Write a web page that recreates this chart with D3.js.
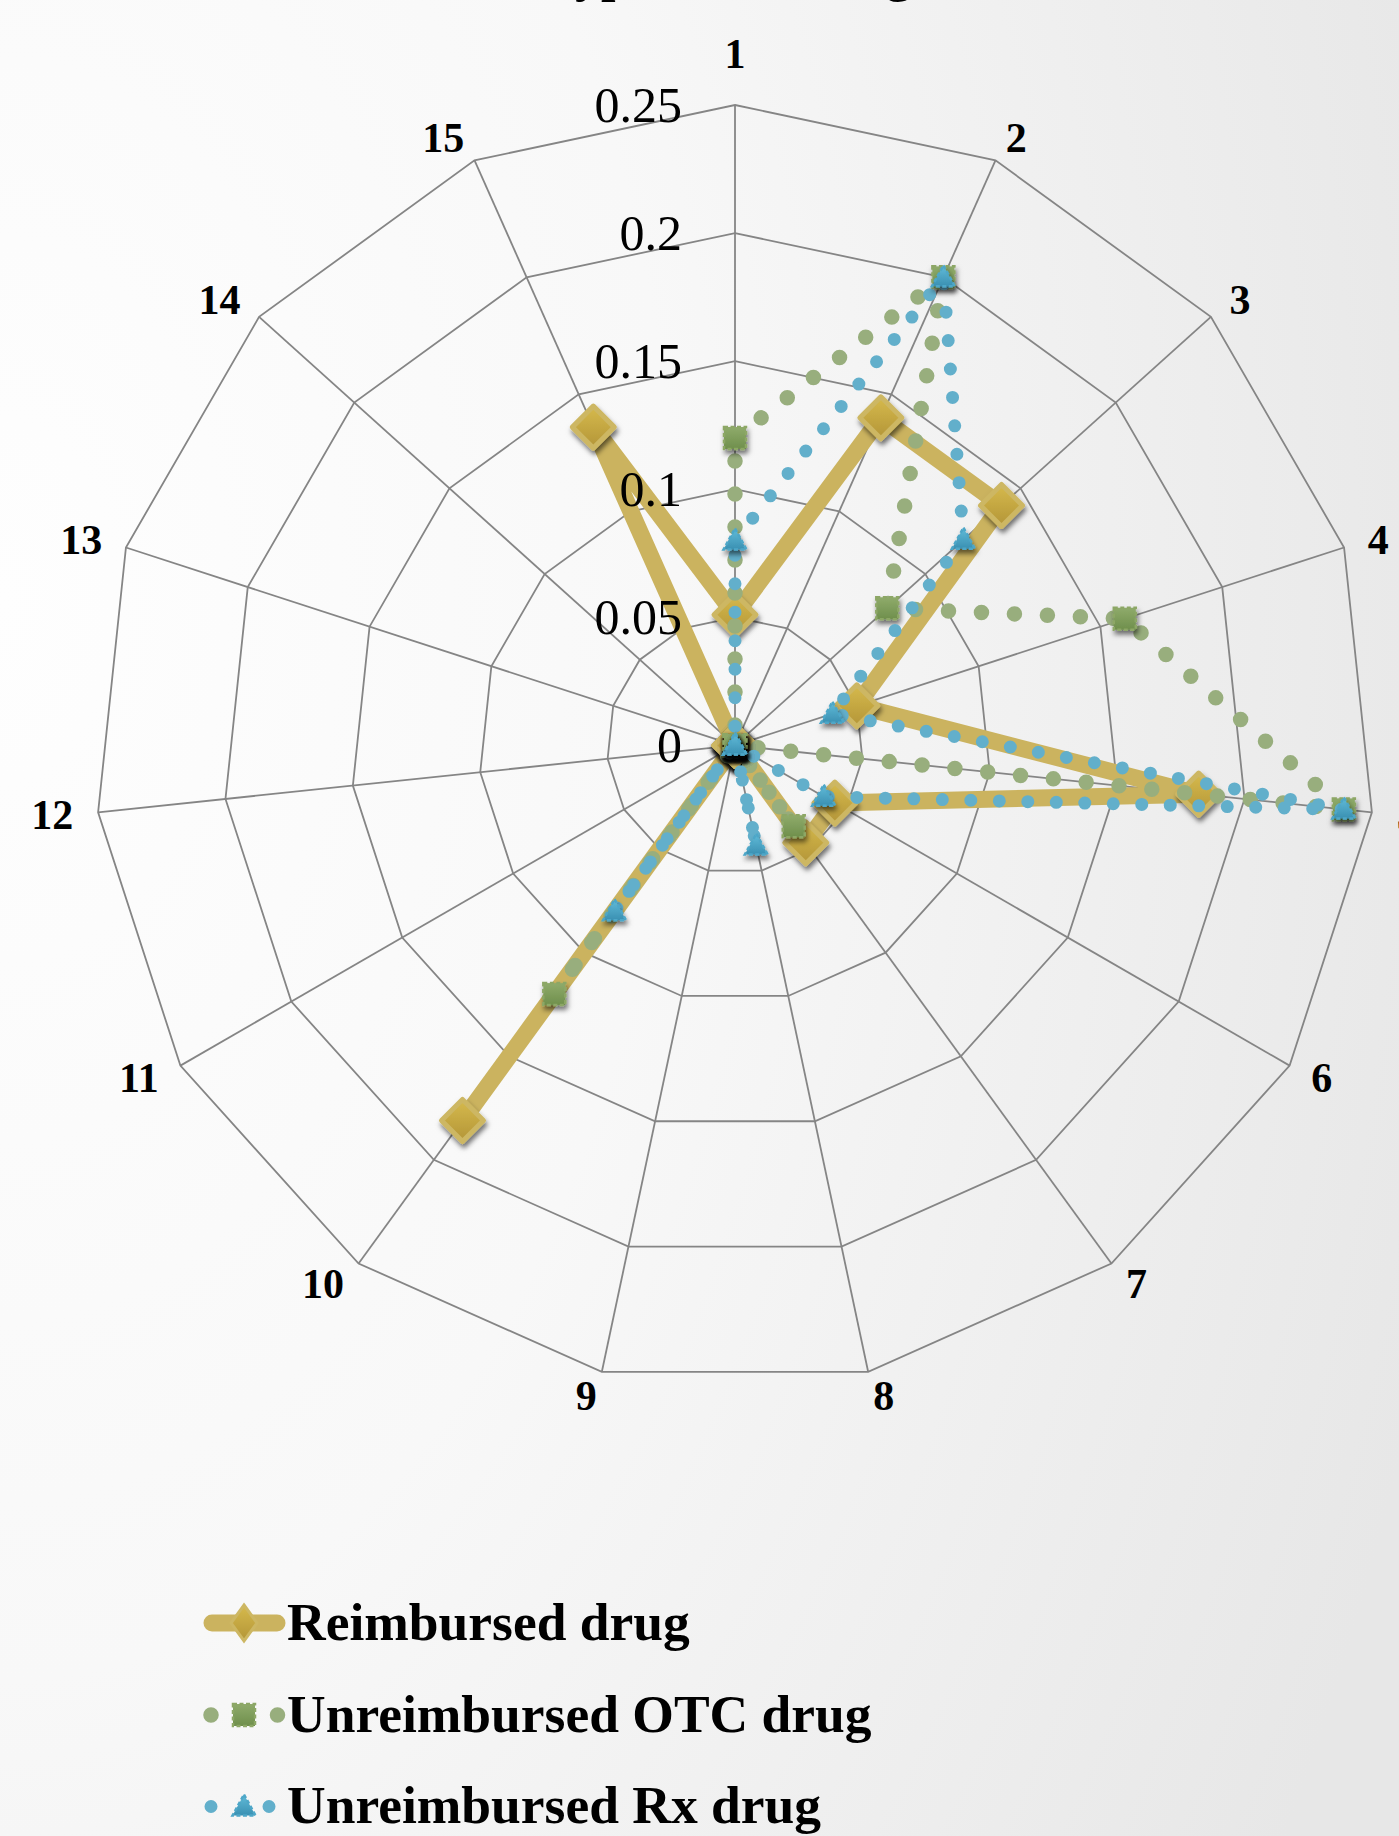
<!DOCTYPE html>
<html>
<head>
<meta charset="utf-8">
<script src="https://cdn.jsdelivr.net/npm/d3@7/dist/d3.min.js"></script>
<style>
  html, body { margin: 0; padding: 0; overflow: hidden; background: #f4f4f4; }
  svg { display: block; }
  text { font-family: "Liberation Serif", "Times New Roman", serif; fill: #000; }
</style>
</head>
<body>
<svg id="chart" width="1399" height="1836"></svg>
<script>
// ---- data ----
const titleText = "Type of the drug";
const axisLabels = ["1", "2", "3", "4", "5", "6", "7", "8", "9", "10", "11", "12", "13", "14", "15"];
const tickValues = [0, 0.05, 0.1, 0.15, 0.2, 0.25];
const tickLabels = ["0", "0.05", "0.1", "0.15", "0.2", "0.25"];
const seriesNames = ["Reimbursed drug", "Unreimbursed OTC drug", "Unreimbursed Rx drug"];
const reimbursed = [0.051, 0.140, 0.140, 0.050, 0.182, 0.045, 0.047, 0, 0, 0.181, 0, 0, 0, 0, 0.136];
const otc        = [0.120, 0.200, 0.080, 0.160, 0.239, 0, 0.039, 0, 0, 0.120, 0, 0, 0, 0, 0];
const rx         = [0.080, 0.200, 0.120, 0.040, 0.239, 0.040, 0, 0.040, 0, 0.080, 0, 0, 0, 0, 0];

// ---- layout ----
const W = 1399, H = 1836;
const cx = 735, cy = 745.4, R = 640.4;
const svg = d3.select("#chart");
const defs = svg.append("defs");

// page background: soft light-grey radial wash
const bg = defs.append("radialGradient").attr("id", "bgGrad")
  .attr("gradientUnits", "userSpaceOnUse")
  .attr("cx", 0).attr("cy", 600).attr("r", 1500)
  .attr("gradientTransform", "translate(0,600) scale(1,1.6) translate(0,-600)");
bg.append("stop").attr("offset", "0").attr("stop-color", "#fefefe");
bg.append("stop").attr("offset", "0.45").attr("stop-color", "#f8f8f8");
bg.append("stop").attr("offset", "1").attr("stop-color", "#e7e7e7");
svg.append("rect").attr("width", W).attr("height", H).attr("fill", "url(#bgGrad)");

function vGrad(id, top, bottom) {
  const g = defs.append("linearGradient").attr("id", id)
    .attr("x1", 0).attr("y1", 0).attr("x2", 0).attr("y2", 1);
  g.append("stop").attr("offset", "0").attr("stop-color", top);
  g.append("stop").attr("offset", "1").attr("stop-color", bottom);
}
vGrad("goldGrad", "#d6ba4c", "#b39538");
vGrad("greenGrad", "#8fab6b", "#6f8f4c");
vGrad("blueGrad", "#62bcd9", "#3a90b2");

const shadow = defs.append("filter").attr("id", "mShadow")
  .attr("x", "-60%").attr("y", "-60%").attr("width", "220%").attr("height", "220%");
shadow.append("feDropShadow").attr("dx", 1.5).attr("dy", 4).attr("stdDeviation", 2.5)
  .attr("flood-color", "#000").attr("flood-opacity", 0.55);

// ---- scales ----
const r = d3.scaleLinear().domain([0, 0.25]).range([0, R]);
const angle = d3.scaleLinear().domain([0, axisLabels.length]).range([0, 2 * Math.PI]);
const idx = d3.range(axisLabels.length);

const g = svg.append("g").attr("transform", `translate(${cx},${cy})`);

// ---- grid ----
const ring = d3.lineRadial().angle(i => angle(i)).curve(d3.curveLinearClosed);
g.append("g").selectAll("path").data(tickValues.slice(1)).join("path")
  .attr("d", v => ring.radius(() => r(v))(idx))
  .attr("fill", "none").attr("stroke", "#858585").attr("stroke-width", 1.8);

g.append("g").selectAll("line").data(idx).join("line")
  .attr("x1", 0).attr("y1", 0)
  .attr("x2", i => d3.pointRadial(angle(i), r(0.25))[0])
  .attr("y2", i => d3.pointRadial(angle(i), r(0.25))[1])
  .attr("stroke", "#858585").attr("stroke-width", 1.8);

// ---- category labels around the web ----
const catLabels = g.append("g").selectAll("text").data(idx).join("text")
  .style("font-size", "42px").style("font-weight", "bold")
  .text(i => axisLabels[i]);
catLabels.each(function (i) {
  const a = angle(i);
  const s = Math.sin(a), c = Math.cos(a);
  const [vx, vy] = d3.pointRadial(a, r(0.25));
  const gap = 25;
  let x = vx + gap * s, y = vy - gap * c;
  const el = d3.select(this);
  if (Math.abs(s) < 1e-6) {
    // top spoke: label box sits above the vertex
    el.attr("text-anchor", "middle").attr("dominant-baseline", "central");
    y -= 26;
  } else {
    el.attr("text-anchor", s > 0 ? "start" : "end").attr("dominant-baseline", "central");
  }
  el.attr("x", x).attr("y", y);
});

// ---- series ----
const series = [
  { name: seriesNames[0], values: reimbursed, color: "#cbb35f", width: 17, dash: null, marker: "diamond" },
  { name: seriesNames[1], values: otc, color: "#98ae7d", width: 15.5, dash: "0 33", marker: "square" },
  { name: seriesNames[2], values: rx, color: "#62afcb", width: 13, dash: "0 28.5", marker: "triangle" }
];

const radar = d3.lineRadial()
  .angle((d, i) => angle(i))
  .radius(d => r(d))
  .curve(d3.curveLinearClosed);

function drawMarker(sel, type) {
  if (type === "diamond") {
    sel.append("path").attr("d", "M0,-21 L21,0 L0,21 L-21,0 Z")
      .attr("fill", "url(#goldGrad)").attr("stroke", "#cdb763").attr("stroke-width", 5)
      .attr("stroke-linejoin", "round");
  } else if (type === "square") {
    sel.append("rect").attr("x", -11).attr("y", -11).attr("width", 22).attr("height", 22)
      .attr("fill", "url(#greenGrad)").attr("stroke", "#8da766").attr("stroke-width", 2.5)
      .attr("stroke-dasharray", "4 2.5");
  } else {
    sel.append("path").attr("d", "M0,-12 L11.5,9 L-11.5,9 Z")
      .attr("fill", "url(#blueGrad)").attr("stroke", "#4ea7c8").attr("stroke-width", 2.5)
      .attr("stroke-dasharray", "4 2.5");
  }
}

series.forEach(s => {
  const sg = g.append("g");
  const p = sg.append("path").attr("d", radar(s.values))
    .attr("fill", "none").attr("stroke", s.color).attr("stroke-width", s.width)
    .attr("stroke-linejoin", "round").attr("stroke-linecap", "round");
  if (s.dash) p.attr("stroke-dasharray", s.dash);
  sg.selectAll("g.m").data(s.values).join("g").attr("class", "m")
    .attr("transform", (d, i) => {
      const [x, y] = d3.pointRadial(angle(i), r(d));
      return `translate(${x},${y})`;
    })
    .attr("filter", "url(#mShadow)")
    .each(function () { drawMarker(d3.select(this), s.marker); });
});

// ---- value labels along the first spoke (drawn above the series) ----
g.append("g").selectAll("text").data(tickValues).join("text")
  .attr("x", -53).attr("y", v => -r(v))
  .attr("text-anchor", "end").attr("dominant-baseline", "central")
  .style("font-size", "50px")
  .text((v, i) => tickLabels[i]);

// ---- legend ----
const legendRows = [1623, 1715, 1806.5];
const lg = svg.append("g");
series.forEach((s, k) => {
  const row = lg.append("g").attr("transform", `translate(0,${legendRows[k]})`);
  if (k === 0) {
    row.append("line").attr("x1", 212).attr("x2", 277).attr("y1", 0).attr("y2", 0)
      .attr("stroke", s.color).attr("stroke-width", 17).attr("stroke-linecap", "round");
    row.append("path").attr("d", "M244,-18 L257,0 L244,18 L231,0 Z")
      .attr("fill", "url(#goldGrad)").attr("stroke", "#cdb763").attr("stroke-width", 3);
  } else {
    const x2 = k === 1 ? 277.5 : 269;
    const step = x2 - 211;
    row.append("line").attr("x1", 211).attr("x2", x2 + 1).attr("y1", 0).attr("y2", 0)
      .attr("stroke", s.color).attr("stroke-width", s.width).attr("stroke-linecap", "round")
      .attr("stroke-dasharray", `0 ${step}`);
    const m = row.append("g").attr("transform", "translate(244,0)");
    drawMarker(m, s.marker);
  }
  row.append("text").attr("x", 287).attr("y", 16.5)
    .style("font-size", "53.5px").style("font-weight", "bold")
    .text(s.name);
});

// ---- title (sits above the top edge of the page) ----
svg.append("text").attr("x", 728).attr("y", -9).attr("text-anchor", "middle")
  .style("font-size", "52px").style("font-weight", "bold")
  .text(titleText);
</script>
</body>
</html>
